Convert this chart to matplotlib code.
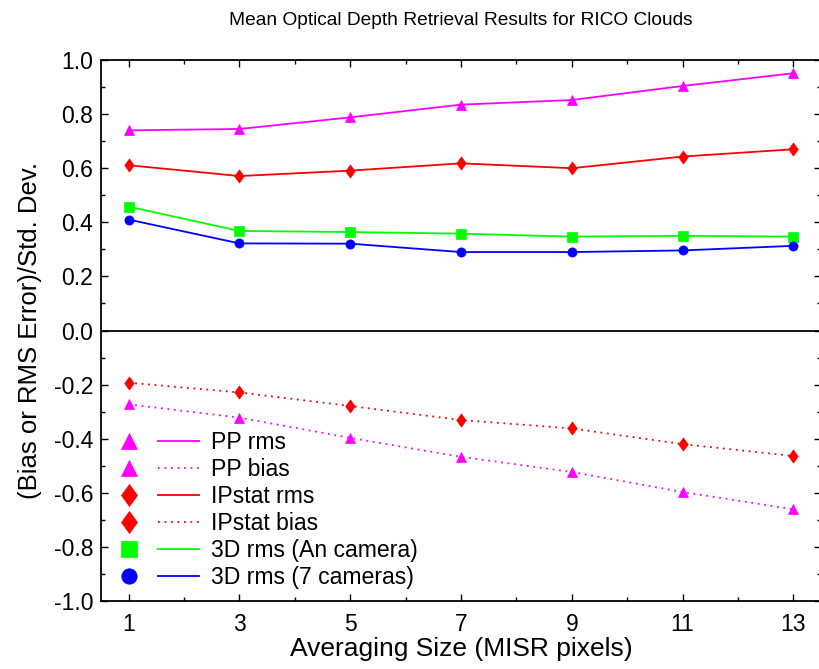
import matplotlib
matplotlib.use("Agg")
import matplotlib.pyplot as plt
from matplotlib.lines import Line2D
from matplotlib.path import Path
from matplotlib.legend_handler import HandlerBase
from matplotlib.ticker import MultipleLocator

plt.rcParams["font.family"] = ["Liberation Sans", "DejaVu Sans"]

# Averaging size in MISR pixels
sizes = [1, 3, 5, 7, 9, 11, 13]

# Normalised RMS errors
pp_rms = [0.740, 0.745, 0.788, 0.835, 0.852, 0.904, 0.951]
ipstat_rms = [0.611, 0.571, 0.591, 0.618, 0.600, 0.643, 0.670]
rms_3d_an = [0.458, 0.368, 0.364, 0.358, 0.347, 0.350, 0.347]
rms_3d_7cam = [0.410, 0.322, 0.321, 0.290, 0.290, 0.296, 0.313]

# Normalised biases
pp_bias = [-0.273, -0.322, -0.397, -0.467, -0.523, -0.597, -0.661]
ipstat_bias = [-0.193, -0.229, -0.279, -0.331, -0.362, -0.420, -0.464]

x_ticks = [1, 3, 5, 7, 9, 11, 13]
y_ticks = [-1.0, -0.8, -0.6, -0.4, -0.2, 0.0, 0.2, 0.4, 0.6, 0.8, 1.0]

MAGENTA = "#FF00FF"
RED = "#FF0000"
GREEN = "#00FF00"
BLUE = "#0000FF"

# diamond that is taller than it is wide
DIAMOND = Path([(0, 1), (0.73, 0), (0, -1), (-0.73, 0), (0, 1)],
               [Path.MOVETO, Path.LINETO, Path.LINETO, Path.LINETO,
                Path.CLOSEPOLY])

DOT = (0, (1, 2.6))

series = [
    (pp_rms, MAGENTA, "^", 6.9, "-", "PP rms"),
    (pp_bias, MAGENTA, "^", 6.9, DOT, "PP bias"),
    (ipstat_rms, RED, DIAMOND, 9.4, "-", "IPstat rms"),
    (ipstat_bias, RED, DIAMOND, 9.4, DOT, "IPstat bias"),
    (rms_3d_an, GREEN, "s", 6.5, "-", "3D rms (An camera)"),
    (rms_3d_7cam, BLUE, "o", 6.6, "-", "3D rms (7 cameras)"),
]


class MarkerThenLine(HandlerBase):
    """Legend entry drawn as the marker first, then a short line segment."""

    def create_artists(self, legend, orig_handle, xdescent, ydescent,
                       width, height, fontsize, trans):
        yc = height / 2.0 - ydescent
        x0 = -xdescent
        mk = Line2D([x0 + 0.215 * width], [yc], linestyle="none",
                    marker=orig_handle.get_marker(),
                    markersize=orig_handle.get_markersize() * 1.68,
                    markerfacecolor=orig_handle.get_markerfacecolor(),
                    markeredgecolor=orig_handle.get_markeredgecolor(),
                    markeredgewidth=0.5,
                    transform=trans)
        ln = Line2D([x0 + 0.54 * width, x0 + width], [yc, yc])
        ln.update_from(orig_handle)
        ln.set_marker("None")
        ln.set_transform(trans)
        return [mk, ln]


fig = plt.figure(figsize=(8.2, 6.69), dpi=100)
ax = fig.add_axes([101 / 820, 68 / 669, 720 / 820, 541 / 669])

handles = []
for vals, color, marker, ms, ls, label in series:
    (h,) = ax.plot(sizes, vals, color=color, linestyle=ls, linewidth=1.3,
                   marker=marker, markersize=ms, markerfacecolor=color,
                   markeredgecolor=color, markeredgewidth=0.5,
                   label=label, zorder=3)
    handles.append(h)

ax.axhline(0.0, color="black", linewidth=1.3, zorder=2)

ax.set_xlim(0.5, 13.5)
ax.set_ylim(-1.0, 1.0)
ax.set_xticks(x_ticks)
ax.set_xticklabels([str(v) for v in x_ticks])
ax.set_yticks(y_ticks)
ax.set_yticklabels([f"{v:.1f}" for v in y_ticks])
ax.xaxis.set_minor_locator(MultipleLocator(1))
ax.yaxis.set_minor_locator(MultipleLocator(0.1))
ax.tick_params(which="both", direction="in", top=True, right=True,
               labelsize=16.5, width=1.0)
ax.tick_params(axis="x", which="major", pad=8.5)
ax.tick_params(axis="y", which="major", pad=5.5)
ax.tick_params(which="major", length=5)
ax.tick_params(which="minor", length=3)

for side in ("left", "bottom", "top", "right"):
    ax.spines[side].set_linewidth(1.3)

ax.set_title("Mean Optical Depth Retrieval Results for RICO Clouds",
             fontsize=13.8, pad=25)
ax.set_xlabel("Averaging Size (MISR pixels)", fontsize=19, labelpad=1)
ax.set_ylabel("(Bias or RMS Error)/Std. Dev.", fontsize=18.5, labelpad=8.5)

ax.legend(handles=handles, loc="upper left", bbox_to_anchor=(0.0, 0.332),
          frameon=False, fontsize=16.6, handlelength=3.87,
          handletextpad=0.52, labelspacing=0.18, borderaxespad=0,
          handler_map={Line2D: MarkerThenLine()})

fig.savefig("out.png", dpi=100)
